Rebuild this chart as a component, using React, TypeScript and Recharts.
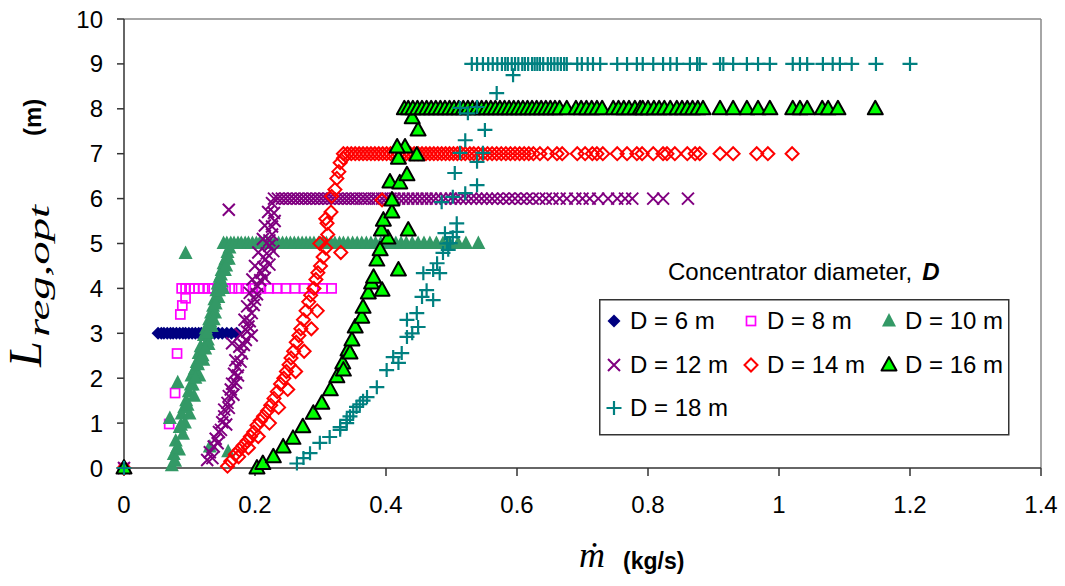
import { ScatterChart, Scatter, XAxis, YAxis, ReferenceLine, Legend } from 'recharts'

type Pt = [number, number]

const SANS = '"Liberation Sans", Arial, sans-serif'
const SERIF = '"Liberation Serif", "Times New Roman", serif'

const X_TICKS = [0, 0.2, 0.4, 0.6, 0.8, 1, 1.2, 1.4]
const Y_TICKS = [0, 1, 2, 3, 4, 5, 6, 7, 8, 9, 10]

// each diameter: the rising part (x, y) and the flat run at its max length
const d6Rise: Pt[] = [[0, 0]]
const d6Flat = [
  0.052, 0.057, 0.061, 0.066, 0.071, 0.075, 0.08, 0.085, 0.09, 0.094, 0.099, 0.104, 0.109, 0.114,
  0.118, 0.123, 0.128, 0.133, 0.138, 0.144, 0.15, 0.157, 0.164, 0.172,
]

const d8Rise: Pt[] = [
  [0, 0], [0.069, 0.98], [0.078, 1.67], [0.081, 2.55], [0.086, 3.42], [0.089, 3.62], [0.094, 3.78],
]
const d8Flat = [
  0.088, 0.094, 0.1, 0.107, 0.114, 0.121, 0.129, 0.137, 0.146, 0.155, 0.165, 0.175, 0.186, 0.197,
  0.209, 0.221, 0.234, 0.247, 0.261, 0.275, 0.289, 0.303, 0.317,
]

const d10Rise: Pt[] = [
  [0, 0], [0.073, 0.05], [0.076, 0.3], [0.079, 0.6], [0.07, 1.1], [0.082, 1.9], [0.085, 0.9],
  [0.088, 1.2], [0.093, 1.0], [0.095, 1.5], [0.099, 1.7], [0.103, 2.05], [0.105, 1.85], [0.108, 2.2],
  [0.111, 2.35], [0.114, 2.55], [0.117, 2.7], [0.12, 2.5], [0.122, 2.95], [0.125, 3.1], [0.128, 2.85],
  [0.13, 3.3], [0.133, 3.45], [0.136, 3.6], [0.138, 3.75], [0.141, 3.95], [0.143, 4.1], [0.146, 4.25],
  [0.149, 4.4], [0.152, 4.55], [0.155, 4.65], [0.158, 4.8], [0.161, 4.9], [0.094, 4.78], [0.131, 0.47],
  [0.159, 0.36], [0.084, 0.4], [0.09, 0.75], [0.1, 1.2], [0.107, 1.6], [0.115, 2.05], [0.121, 2.4],
  [0.129, 2.75], [0.134, 3.15], [0.139, 3.45], [0.144, 3.8], [0.149, 4.15], [0.154, 4.4], [0.16, 4.65],
  [0.078, 0.15], [0.081, 0.45], [0.087, 0.95], [0.092, 1.35], [0.097, 1.4], [0.102, 1.85], [0.109, 2.0],
  [0.113, 2.3], [0.118, 2.45], [0.124, 2.65], [0.127, 3.0], [0.132, 3.25], [0.137, 3.3], [0.14, 3.65],
  [0.145, 3.95], [0.148, 4.3], [0.151, 4.0], [0.156, 4.5],
]
const d10Flat = [
  0.152, 0.157, 0.163, 0.168, 0.174, 0.179, 0.185, 0.19, 0.196, 0.202, 0.207, 0.213, 0.219, 0.224,
  0.23, 0.236, 0.242, 0.248, 0.254, 0.26, 0.266, 0.272, 0.278, 0.284, 0.29, 0.297, 0.303, 0.309,
  0.316, 0.322, 0.329, 0.335, 0.342, 0.349, 0.356, 0.363, 0.37, 0.377, 0.384, 0.392, 0.399, 0.407,
  0.415, 0.423, 0.431, 0.44, 0.449, 0.458, 0.467, 0.477, 0.487, 0.497, 0.51, 0.522, 0.541,
]

const d12Rise: Pt[] = [
  [0, 0], [0.127, 0.18], [0.135, 0.22], [0.137, 0.48], [0.143, 0.55], [0.145, 0.8], [0.15, 1.02],
  [0.156, 0.97], [0.153, 1.3], [0.16, 1.34], [0.16, 1.6], [0.167, 1.63], [0.165, 1.88], [0.168, 2.1],
  [0.174, 2.06], [0.17, 2.4], [0.178, 2.37], [0.165, 2.78], [0.176, 2.7], [0.183, 2.74], [0.178, 2.98],
  [0.188, 3.04], [0.195, 2.95], [0.184, 3.3], [0.192, 3.27], [0.188, 3.6], [0.198, 3.63],
  [0.192, 3.9], [0.203, 3.87], [0.196, 4.2], [0.208, 4.18], [0.215, 4.23], [0.2, 4.5], [0.213, 4.47],
  [0.222, 4.53], [0.205, 4.8], [0.218, 4.78], [0.228, 4.83], [0.212, 5.1], [0.222, 5.07],
  [0.215, 5.4], [0.226, 5.38], [0.22, 5.7], [0.229, 5.68], [0.226, 5.9], [0.16, 5.75],
  [0.131, 0.35], [0.14, 0.65], [0.148, 0.85], [0.153, 1.15], [0.158, 1.45], [0.163, 1.75],
  [0.171, 1.9], [0.173, 2.25], [0.18, 2.55], [0.186, 2.85], [0.19, 3.15], [0.195, 3.45], [0.2, 3.75],
  [0.204, 4.05], [0.21, 4.35], [0.216, 4.65], [0.222, 4.95], [0.226, 5.2], [0.23, 5.5],
]
const d12Flat = [
  0.229, 0.235, 0.241, 0.247, 0.253, 0.259, 0.265, 0.271, 0.277, 0.283, 0.289, 0.295, 0.301, 0.307,
  0.313, 0.319, 0.325, 0.331, 0.337, 0.343, 0.349, 0.355, 0.362, 0.368, 0.374, 0.381, 0.387, 0.394,
  0.4, 0.407, 0.413, 0.42, 0.427, 0.434, 0.441, 0.448, 0.455, 0.462, 0.469, 0.476, 0.484, 0.491,
  0.499, 0.506, 0.514, 0.522, 0.53, 0.538, 0.546, 0.554, 0.562, 0.57, 0.579, 0.588, 0.597, 0.606,
  0.615, 0.624, 0.634, 0.644, 0.654, 0.665, 0.676, 0.689, 0.7, 0.711, 0.724, 0.739, 0.753, 0.765,
  0.776, 0.808, 0.823, 0.861,
]

const d14Rise: Pt[] = [
  [0, 0], [0.158, 0.04], [0.163, 0.15], [0.17, 0.3], [0.176, 0.4], [0.182, 0.5], [0.188, 0.6],
  [0.193, 0.7], [0.198, 0.8], [0.203, 0.95], [0.208, 1.05], [0.213, 1.15], [0.219, 1.27], [0.224, 1.4],
  [0.229, 1.55], [0.234, 1.7], [0.239, 1.87], [0.244, 2.0], [0.248, 2.15], [0.252, 2.3], [0.255, 2.45],
  [0.259, 2.6], [0.263, 2.8], [0.267, 2.95], [0.27, 3.1], [0.274, 3.3], [0.278, 3.5], [0.282, 3.7],
  [0.285, 3.85], [0.29, 4.0], [0.293, 4.2], [0.296, 4.35], [0.3, 4.5], [0.304, 4.7], [0.308, 4.9],
  [0.299, 5.0], [0.311, 5.2], [0.31, 5.45], [0.308, 5.55], [0.316, 5.7], [0.317, 6.05], [0.322, 6.2],
  [0.325, 6.45], [0.328, 6.6], [0.33, 6.8], [0.335, 6.9], [0.331, 4.8], [0.394, 5.97],
  [0.175, 0.25], [0.19, 0.45], [0.205, 0.7], [0.222, 1.0], [0.236, 1.35], [0.25, 1.75], [0.262, 2.15],
  [0.275, 2.6], [0.286, 3.1], [0.295, 3.5],
]
const d14Flat = [
  0.335, 0.341, 0.347, 0.353, 0.359, 0.365, 0.371, 0.377, 0.383, 0.389, 0.395, 0.401, 0.407, 0.413,
  0.419, 0.425, 0.431, 0.437, 0.443, 0.449, 0.455, 0.461, 0.467, 0.473, 0.479, 0.485, 0.491, 0.497,
  0.503, 0.509, 0.515, 0.521, 0.528, 0.534, 0.541, 0.548, 0.555, 0.562, 0.569, 0.576, 0.583, 0.59,
  0.597, 0.604, 0.611, 0.618, 0.625, 0.635, 0.647, 0.661, 0.669, 0.692, 0.704, 0.715, 0.722, 0.731,
  0.753, 0.768, 0.783, 0.791, 0.808, 0.823, 0.829, 0.841, 0.86, 0.872, 0.879, 0.91, 0.93, 0.966,
  0.983, 1.02,
]

const d16Rise: Pt[] = [
  [0, 0], [0.203, 0.0], [0.212, 0.1], [0.228, 0.25], [0.243, 0.47], [0.258, 0.66], [0.273, 0.92],
  [0.289, 1.22], [0.302, 1.44], [0.315, 1.74], [0.325, 2.03], [0.334, 2.34], [0.342, 2.63],
  [0.335, 2.18], [0.345, 2.56], [0.348, 2.85], [0.353, 3.14], [0.363, 3.36], [0.365, 3.58],
  [0.373, 3.9], [0.378, 4.12], [0.381, 4.25], [0.386, 4.63], [0.391, 4.86], [0.403, 5.12],
  [0.394, 3.96], [0.419, 4.41], [0.393, 5.3], [0.396, 5.52], [0.409, 5.7], [0.409, 5.97],
  [0.406, 6.37], [0.421, 6.35], [0.432, 6.53], [0.419, 6.9], [0.429, 7.15], [0.417, 7.15],
  [0.447, 6.97], [0.449, 7.53], [0.44, 7.8], [0.434, 5.3],
]
const d16Flat = [
  0.428, 0.434, 0.441, 0.448, 0.455, 0.462, 0.469, 0.476, 0.483, 0.49, 0.497, 0.504, 0.511, 0.518,
  0.525, 0.532, 0.539, 0.546, 0.553, 0.56, 0.567, 0.574, 0.581, 0.588, 0.595, 0.602, 0.609, 0.616,
  0.623, 0.63, 0.637, 0.644, 0.651, 0.658, 0.665, 0.676, 0.69, 0.698, 0.706, 0.714, 0.722, 0.73,
  0.747, 0.755, 0.763, 0.771, 0.78, 0.788, 0.792, 0.8, 0.809, 0.817, 0.825, 0.834, 0.844, 0.852,
  0.86, 0.868, 0.876, 0.884, 0.91, 0.93, 0.951, 0.968, 0.986, 1.021, 1.032, 1.043, 1.066, 1.075,
  1.09, 1.147,
]

const d18Rise: Pt[] = [
  [0, 0], [0.264, 0.1], [0.274, 0.22], [0.284, 0.33], [0.299, 0.56], [0.314, 0.69], [0.33, 0.85],
  [0.34, 1.0], [0.33, 0.91], [0.34, 1.07], [0.345, 1.15], [0.35, 1.25], [0.355, 1.36], [0.36, 1.42],
  [0.365, 1.5], [0.371, 1.58], [0.386, 1.8], [0.401, 2.18], [0.419, 2.34], [0.411, 2.47],
  [0.424, 2.56], [0.432, 2.92], [0.44, 3.0], [0.432, 3.3], [0.449, 3.14], [0.447, 3.45],
  [0.455, 3.81], [0.462, 3.96], [0.472, 3.74], [0.457, 4.34], [0.472, 4.41], [0.482, 4.34],
  [0.478, 4.56], [0.487, 4.79], [0.498, 5.01], [0.508, 5.26], [0.49, 5.23], [0.493, 5.0],
  [0.495, 4.86], [0.508, 5.45], [0.502, 5.14], [0.485, 5.92], [0.502, 6.04], [0.521, 6.12],
  [0.539, 6.3], [0.505, 6.57], [0.513, 7.02], [0.539, 6.82], [0.548, 7.02], [0.521, 7.3],
  [0.551, 7.53], [0.513, 8.02], [0.525, 7.9], [0.539, 8.04], [0.569, 8.35], [0.594, 8.75],
]
const d18Flat = [
  0.531, 0.539, 0.548, 0.556, 0.563, 0.57, 0.577, 0.582, 0.586, 0.592, 0.597, 0.602, 0.608, 0.612,
  0.617, 0.623, 0.627, 0.631, 0.635, 0.64, 0.647, 0.652, 0.657, 0.662, 0.667, 0.672, 0.676, 0.692,
  0.699, 0.708, 0.716, 0.727, 0.753, 0.768, 0.783, 0.792, 0.808, 0.823, 0.834, 0.844, 0.864, 0.875,
  0.879, 0.91, 0.915, 0.93, 0.951, 0.968, 0.986, 1.021, 1.032, 1.043, 1.067, 1.082, 1.093, 1.111,
  1.148, 1.2,
]

function toRows(rise: Pt[], flat: number[], level: number) {
  return [...rise.map(([x, y]) => ({ x, y })), ...flat.map((x) => ({ x, y: level }))]
}

type MarkKind = 'diamond' | 'square' | 'triangle' | 'cross' | 'openDiamond' | 'edgedTriangle' | 'plus'

const SERIES: { name: string; mark: MarkKind; data: { x: number; y: number }[] }[] = [
  { name: 'D = 6 m', mark: 'diamond', data: toRows(d6Rise, d6Flat, 3) },
  { name: 'D = 8 m', mark: 'square', data: toRows(d8Rise, d8Flat, 4) },
  { name: 'D = 10 m', mark: 'triangle', data: toRows(d10Rise, d10Flat, 5) },
  { name: 'D = 12 m', mark: 'cross', data: toRows(d12Rise, d12Flat, 6) },
  { name: 'D = 14 m', mark: 'openDiamond', data: toRows(d14Rise, d14Flat, 7) },
  { name: 'D = 16 m', mark: 'edgedTriangle', data: toRows(d16Rise, d16Flat, 8) },
  { name: 'D = 18 m', mark: 'plus', data: toRows(d18Rise, d18Flat, 9) },
]

function Mark({ kind, cx, cy }: { kind: MarkKind; cx: number; cy: number }) {
  switch (kind) {
    case 'diamond':
      return <polygon points={`${cx},${cy - 6.5} ${cx + 6.5},${cy} ${cx},${cy + 6.5} ${cx - 6.5},${cy}`} fill="#000080" />
    case 'square':
      return <rect x={cx - 4.5} y={cy - 4.5} width={9} height={9} fill="none" stroke="#FF00FF" strokeWidth={1.7} />
    case 'triangle':
      return <polygon points={`${cx},${cy - 8} ${cx + 7},${cy + 5.5} ${cx - 7},${cy + 5.5}`} fill="#339966" />
    case 'cross':
      return (
        <path
          d={`M${cx - 6},${cy - 6}L${cx + 6},${cy + 6}M${cx - 6},${cy + 6}L${cx + 6},${cy - 6}`}
          stroke="#800080"
          strokeWidth={2}
        />
      )
    case 'openDiamond':
      return (
        <polygon
          points={`${cx},${cy - 6.5} ${cx + 6.5},${cy} ${cx},${cy + 6.5} ${cx - 6.5},${cy}`}
          fill="none"
          stroke="#FF0000"
          strokeWidth={2}
        />
      )
    case 'edgedTriangle':
      return (
        <polygon
          points={`${cx},${cy - 8} ${cx + 7.5},${cy + 5.5} ${cx - 7.5},${cy + 5.5}`}
          fill="#00FF00"
          stroke="#000"
          strokeWidth={2}
          strokeLinejoin="round"
        />
      )
    case 'plus':
      return (
        <path d={`M${cx - 7.5},${cy}L${cx + 7.5},${cy}M${cx},${cy - 7}L${cx},${cy + 7}`} stroke="#008080" strokeWidth={2.2} />
      )
  }
}

function LegendBox() {
  return (
    <svg width={440} height={190} style={{ overflow: 'visible', display: 'block' }}>
      <text x={69} y={30} fontFamily={SANS} fontSize={24} fill="#000">
        Concentrator diameter,
        <tspan dx={10} fontWeight="bold" fontStyle="italic">D</tspan>
      </text>
      <rect x={0.75} y={49.75} width={409} height={135} fill="#fff" stroke="#333" strokeWidth={1.5} />
      {SERIES.map((s, i) => {
        const col = i % 3
        const row = Math.floor(i / 3)
        const mx = [15, 152, 290][col]
        const base = [79, 123, 166][row]
        return (
          <g key={s.name}>
            <Mark kind={s.mark} cx={mx} cy={base - 8} />
            <text x={mx + 16} y={base} fontFamily={SANS} fontSize={24} fill="#000">
              {s.name}
            </text>
          </g>
        )
      })}
    </svg>
  )
}

export default function App() {
  return (
    <div style={{ position: 'absolute', left: 0, top: 0, width: 1065, height: 586, background: '#fff' }}>
      <ScatterChart width={1065} height={586} margin={{ top: 19, right: 24, bottom: 58, left: 54 }}>
        <XAxis
          type="number"
          dataKey="x"
          domain={[0, 1.4]}
          ticks={X_TICKS}
          height={60}
          tickSize={8}
          tickMargin={20}
          tick={{ fontSize: 24, fill: '#000', fontFamily: SANS }}
          axisLine={{ stroke: '#333', strokeWidth: 1.5 }}
          tickLine={{ stroke: '#333', strokeWidth: 1.5 }}
        />
        <YAxis
          type="number"
          dataKey="y"
          domain={[0, 10]}
          ticks={Y_TICKS}
          width={70}
          tickSize={7}
          tickMargin={14}
          tick={{ fontSize: 24, fill: '#000', fontFamily: SANS }}
          axisLine={{ stroke: '#333', strokeWidth: 1.5 }}
          tickLine={{ stroke: '#333', strokeWidth: 1.5 }}
        />
        <ReferenceLine y={10} stroke="#888" strokeWidth={1.5} />
        <ReferenceLine x={1.4} stroke="#888" strokeWidth={1.5} />
        {SERIES.map((s) => (
          <Scatter
            key={s.name}
            name={s.name}
            data={s.data}
            isAnimationActive={false}
            shape={(p: any) => <Mark kind={s.mark} cx={p.cx} cy={p.cy} />}
          />
        ))}
        <Legend
          layout="vertical"
          align="center"
          verticalAlign="middle"
          width={440}
          height={190}
          wrapperStyle={{ left: 599, top: 250, width: 440, height: 190 }}
          content={() => <LegendBox />}
        />
      </ScatterChart>

      {/* axis titles, with the italic symbols set in a serif face */}
      <svg width={1065} height={586} style={{ position: 'absolute', left: 0, top: 0, pointerEvents: 'none' }}>
        <text transform="translate(41 367) rotate(-90)" fontFamily={SERIF} fontStyle="italic" fontSize={46} fill="#000">
          L
        </text>
        <text
          transform="translate(49 337) rotate(-90)"
          fontFamily={SERIF}
          fontStyle="italic"
          fontSize={29}
          textLength={132}
          lengthAdjust="spacingAndGlyphs"
          fill="#000"
        >
          reg,opt
        </text>
        <text transform="translate(41 136) rotate(-90)" fontFamily={SANS} fontWeight="bold" fontSize={24} fill="#000">
          (m)
        </text>
        <text x={579} y={567} fill="#000">
          <tspan fontFamily={SERIF} fontStyle="italic" fontSize={36}>ṁ</tspan>
          <tspan x={623} y={569} fontFamily={SANS} fontWeight="bold" fontSize={23}>(kg/s)</tspan>
        </text>
      </svg>
    </div>
  )
}
